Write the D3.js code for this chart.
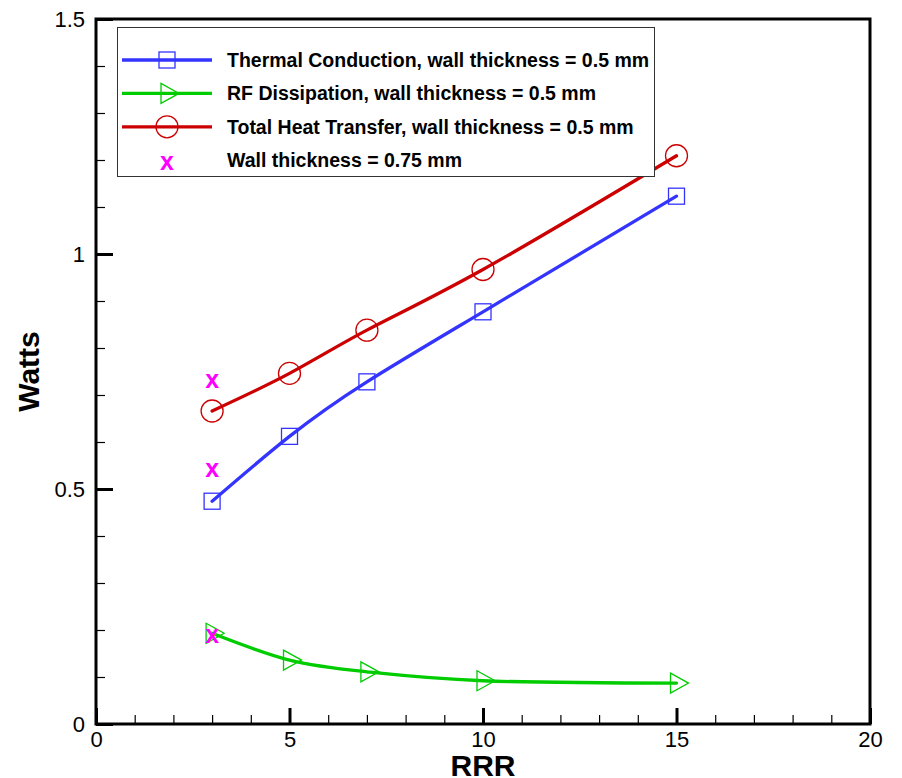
<!DOCTYPE html>
<html>
<head>
<meta charset="utf-8">
<script src="https://cdn.jsdelivr.net/npm/d3@7"></script>
<style>
  html, body { margin: 0; padding: 0; background: #fff; }
  svg { display: block; font-family: "Liberation Sans", Arial, sans-serif; }
</style>
</head>
<body>
<svg id="chart" width="902" height="778"></svg>
<script>
// RRR values at which the heat loads were computed
const rrr = [3, 5, 7, 10, 15];
// Heat loads in watts, wall thickness 0.5 mm
const thermalConduction = [0.474, 0.612, 0.728, 0.877, 1.123];
const rfDissipation = [0.193, 0.136, 0.111, 0.092, 0.087];
const totalHeat = [0.666, 0.746, 0.838, 0.967, 1.209];
// Wall thickness 0.75 mm (RRR = 3 only)
const thickRRR = [3, 3, 3];
const thickWatts = [0.728, 0.540, 0.187];

const xTicks = [0, 5, 10, 15, 20];
const yTicks = [0, 0.5, 1, 1.5];

const legendLabels = [
  "Thermal Conduction, wall thickness = 0.5 mm",
  "RF Dissipation, wall thickness = 0.5 mm",
  "Total Heat Transfer, wall thickness = 0.5 mm",
  "Wall thickness = 0.75 mm"
];

const svg = d3.select("#chart");
const plot = { left: 96, right: 870, top: 19, bottom: 724 };

const x = d3.scaleLinear().domain([0, 20]).range([plot.left, plot.right]);
const y = d3.scaleLinear().domain([0, 1.5]).range([plot.bottom, plot.top]);

const BLUE = "#3434ff", GREEN = "#00cc00", RED = "#cc0000", MAGENTA = "#ff00ff";

// ---- axes ----
const minorX = d3.range(1, 20).filter(v => v % 5 !== 0);
const minorY = d3.range(1, 15).filter(v => v % 5 !== 0).map(v => v / 10);

const gxMinor = svg.append("g").attr("transform", `translate(0,${plot.bottom})`)
  .call(d3.axisBottom(x).tickValues(minorX).tickSize(-9).tickFormat(""));
gxMinor.select(".domain").remove();
gxMinor.selectAll("line").attr("stroke", "#000").attr("stroke-width", 1.2);

const gx = svg.append("g").attr("transform", `translate(0,${plot.bottom})`)
  .call(d3.axisBottom(x).tickValues(xTicks).tickSize(-16).tickPadding(4.5).tickFormat(d3.format("d")));
gx.select(".domain").remove();
gx.selectAll("line").attr("stroke", "#000").attr("stroke-width", 3);
gx.selectAll("text").attr("font-size", 22).attr("fill", "#000").attr("dy", "0.85em");

const gyMinor = svg.append("g").attr("transform", `translate(${plot.left},0)`)
  .call(d3.axisLeft(y).tickValues(minorY).tickSize(-9).tickFormat(""));
gyMinor.select(".domain").remove();
gyMinor.selectAll("line").attr("stroke", "#000").attr("stroke-width", 1.2);

const gy = svg.append("g").attr("transform", `translate(${plot.left},0)`)
  .call(d3.axisLeft(y).tickValues(yTicks).tickSize(-17).tickPadding(11)
    .tickFormat(d => d3.format("")(d)));
gy.select(".domain").remove();
gy.selectAll("line").attr("stroke", "#000").attr("stroke-width", 3);
gy.selectAll("text").attr("font-size", 22).attr("fill", "#000");

// plot frame
svg.append("rect")
  .attr("x", plot.left).attr("y", plot.top)
  .attr("width", plot.right - plot.left).attr("height", plot.bottom - plot.top)
  .attr("fill", "none").attr("stroke", "#000").attr("stroke-width", 3);

// axis titles
svg.append("text")
  .attr("x", (plot.left + plot.right) / 2).attr("y", 776)
  .attr("text-anchor", "middle").attr("font-size", 30).attr("font-weight", "bold")
  .text("RRR");
svg.append("text")
  .attr("transform", `translate(39,${(plot.top + plot.bottom) / 2}) rotate(-90)`)
  .attr("text-anchor", "middle").attr("font-size", 30).attr("font-weight", "bold")
  .text("Watts");

// ---- marker shapes ----
function square(g, cx, cy, color) {
  g.append("rect").attr("x", cx - 8).attr("y", cy - 8).attr("width", 16).attr("height", 16)
    .attr("fill", "none").attr("stroke", color).attr("stroke-width", 1.3);
}
function triangle(g, cx, cy, color) {
  g.append("path")
    .attr("d", `M${cx - 6},${cy - 10}L${cx + 12},${cy}L${cx - 6},${cy + 10}Z`)
    .attr("fill", "none").attr("stroke", color).attr("stroke-width", 1.3);
}
function circle(g, cx, cy, color) {
  g.append("circle").attr("cx", cx).attr("cy", cy).attr("r", 11)
    .attr("fill", "none").attr("stroke", color).attr("stroke-width", 1.3);
}
function cross(g, cx, cy, color) {
  g.append("text").attr("x", cx).attr("y", cy + 6.5)
    .attr("text-anchor", "middle").attr("font-size", 25).attr("font-weight", "bold")
    .attr("fill", color).text("x");
}

// ---- series ----
const series = [
  { values: thermalConduction, color: BLUE, marker: square },
  { values: rfDissipation, color: GREEN, marker: triangle },
  { values: totalHeat, color: RED, marker: circle }
];

const line = d3.line()
  .x(d => x(d[0])).y(d => y(d[1]))
  .curve(d3.curveNatural);

const gData = svg.append("g");
series.forEach(s => {
  const pts = rrr.map((r, i) => [r, s.values[i]]);
  gData.append("path").attr("d", line(pts))
    .attr("fill", "none").attr("stroke", s.color).attr("stroke-width", 3.3)
    .attr("stroke-linecap", "round");
});
series.forEach(s => {
  rrr.forEach((r, i) => s.marker(gData, x(r), y(s.values[i]), s.color));
});
thickRRR.forEach((r, i) => cross(gData, x(r), y(thickWatts[i]), MAGENTA));

// ---- legend ----
const lg = svg.append("g");
lg.append("rect").attr("x", 117.5).attr("y", 27.5).attr("width", 537).attr("height", 149)
  .attr("fill", "#fff").attr("stroke", "#333").attr("stroke-width", 1);

const legendItems = [
  { color: BLUE, marker: square, line: true },
  { color: GREEN, marker: triangle, line: true },
  { color: RED, marker: circle, line: true },
  { color: MAGENTA, marker: cross, line: false }
];
legendItems.forEach((item, i) => {
  const cy = 60 + i * 33.4;
  if (item.line) {
    lg.append("line").attr("x1", 122).attr("x2", 212).attr("y1", cy).attr("y2", cy)
      .attr("stroke", item.color).attr("stroke-width", 3.3);
  }
  item.marker(lg, 167, item.line ? cy : cy + 3, item.color);
  lg.append("text").attr("x", 227).attr("y", cy + 7)
    .attr("font-size", 19.5).attr("font-weight", "bold").attr("fill", "#000")
    .text(legendLabels[i]);
});
</script>
</body>
</html>
